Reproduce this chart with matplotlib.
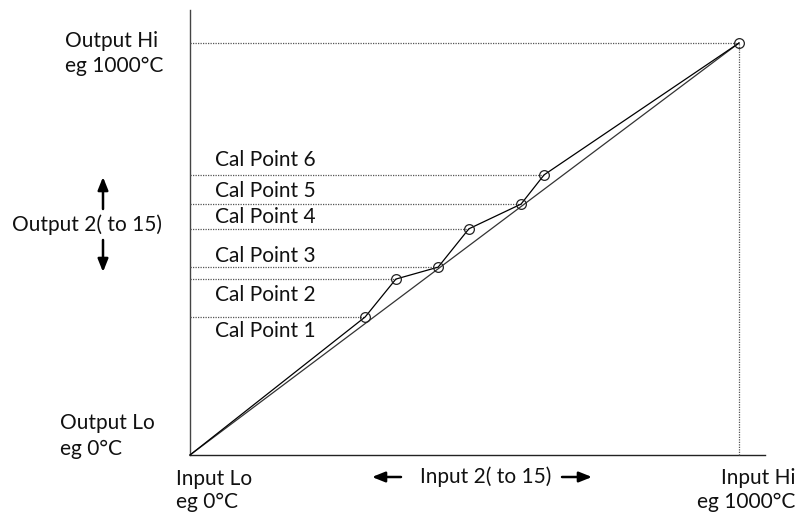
import matplotlib
matplotlib.use("Agg")
import matplotlib.pyplot as plt

# Data (units 0..1000)
input_lo, input_hi = 0, 1000
output_lo, output_hi = 0, 1000
cal_x = [319, 375, 452, 508, 603, 645]
cal_y = [335, 427, 456, 549, 609, 680]
cal_labels = ["Cal Point 1", "Cal Point 2", "Cal Point 3", "Cal Point 4", "Cal Point 5", "Cal Point 6"]

W, H = 799, 515
fig = plt.figure(figsize=(W / 100, H / 100), dpi=100)
plt.rcParams['font.family'] = ['Lato', 'DejaVu Sans']

ox, oy = 190, 455
px_hi_x, px_hi_y = 739, 43
ax = fig.add_axes([ox / W, (H - oy) / H, (px_hi_x - ox) / W, (oy - px_hi_y) / H])
ax.set_xlim(input_lo, input_hi)
ax.set_ylim(output_lo, output_hi)
ax.axis('off')

# axes lines
ax.plot([0, 0], [0, 1080], color='#444444', lw=1.0, clip_on=False)
ax.plot([0, 1047], [0, 0], color='#222222', lw=1.0, clip_on=False)

dot = dict(color='#555555', lw=0.9, ls=(0, (1, 1)), clip_on=False)
# Output Hi / Input Hi guide lines
ax.plot([0, input_hi], [output_hi, output_hi], **dot)
ax.plot([input_hi, input_hi], [0, output_hi], **dot)
# Cal point guide lines
for cx, cy in zip(cal_x, cal_y):
    ax.plot([0, cx], [cy, cy], **dot)

# straight line
ax.plot([input_lo, input_hi], [output_lo, output_hi], color='#333333', lw=0.9, clip_on=False)
# calibrated polyline
px = [input_lo] + cal_x + [input_hi]
py = [output_lo] + cal_y + [output_hi]
ax.plot(px, py, color='black', lw=0.9, clip_on=False)
ax.plot(cal_x + [input_hi], cal_y + [output_hi], ls='none', marker='o', ms=7,
        mfc='none', mec='#222222', mew=0.9, clip_on=False)

fs = 15
def t(x, y, s, ha='left', va='center'):
    fig.text(x / W, 1 - y / H, s, ha=ha, va=va, fontsize=fs, color='#111111')

t(65, 41, "Output Hi")
t(65, 66, "eg 1000°C")
lab_y = [331, 295, 256, 217, 191, 160]
for ly, lab in zip(lab_y, cal_labels):
    t(215, ly, lab)
t(12, 225, "Output 2( to 15)")
t(60, 423, "Output Lo")
t(60, 449, "eg 0°C")
t(176, 479, "Input Lo")
t(176, 502, "eg 0°C")
t(420, 477, "Input 2( to 15)")
t(795, 478, "Input Hi", ha='right')
t(795, 502, "eg 1000°C", ha='right')

# arrows
def a(x0, y0, x1, y1):
    fig.add_artist(matplotlib.patches.FancyArrowPatch(
        (x0 / W, 1 - y0 / H), (x1 / W, 1 - y1 / H), transform=fig.transFigure,
        arrowstyle='-|>,head_length=0.55,head_width=0.22', color='black', lw=1.8,
        mutation_scale=14, shrinkA=0, shrinkB=0))
a(103, 209, 103, 177)
a(103, 240, 103, 272)
a(401, 477, 372, 477)
a(562, 477, 592, 477)

fig.savefig("out.png", dpi=100)
